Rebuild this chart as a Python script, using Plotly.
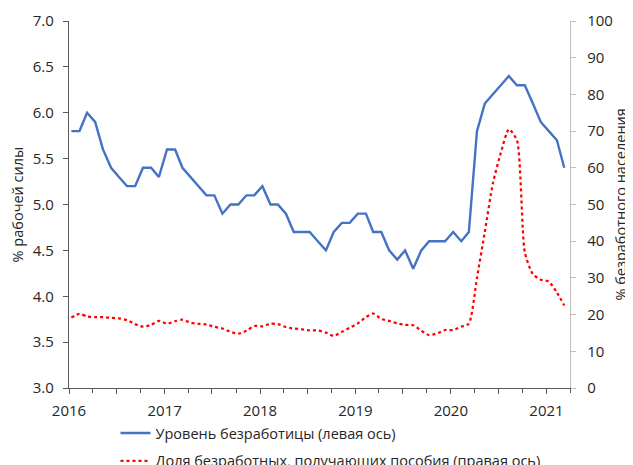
import pandas as pd
import plotly.graph_objects as go

# monthly data, Jan 2016 - Mar 2021
months = pd.date_range("2016-01-01", "2021-03-01", freq="MS") + pd.Timedelta(days=9)

unemployment = [
    5.8, 5.8, 6.0, 5.9, 5.6, 5.4, 5.3, 5.2, 5.2, 5.4, 5.4, 5.3,
    5.6, 5.6, 5.4, 5.3, 5.2, 5.1, 5.1, 4.9, 5.0, 5.0, 5.1, 5.1,
    5.2, 5.0, 5.0, 4.9, 4.7, 4.7, 4.7, 4.6, 4.5, 4.7, 4.8, 4.8,
    4.9, 4.9, 4.7, 4.7, 4.5, 4.4, 4.5, 4.3, 4.5, 4.6, 4.6, 4.6,
    4.7, 4.6, 4.7, 5.8, 6.1, 6.2, 6.3, 6.4, 6.3, 6.3, 6.1, 5.9,
    5.8, 5.7, 5.4,
]

benefit_share = [
    19.2, 20.2, 19.5, 19.3, 19.3, 19.1, 19.0, 18.5, 17.4, 16.7, 17.2, 18.3,
    17.5, 18.2, 18.6, 17.8, 17.5, 17.3, 16.7, 16.2, 15.3, 14.8, 15.6, 16.9,
    16.8, 17.5, 17.4, 16.6, 16.2, 16.0, 15.7, 15.7, 15.1, 14.2, 15.3, 16.4,
    17.6, 19.3, 20.3, 18.8, 18.3, 17.6, 17.2, 17.1, 15.6, 14.4, 14.9, 15.8,
    15.8, 16.7, 17.5, 30.0, 42.5, 55.8, 64.0, 70.5, 67.5, 37.0, 31.0, 29.5,
    29.0, 26.0, 22.5,
]

major_ticks = pd.date_range("2016-01-01", "2021-01-01", freq="6MS")
tick_labels = [str(d.year) if d.month == 1 else "" for d in major_ticks]

FONT = "Open Sans, sans-serif"
DARK = "#595959"
LIGHT = "#bfbfbf"

fig = go.Figure()

fig.add_trace(
    go.Scatter(
        x=months,
        y=unemployment,
        mode="lines",
        name="Уровень безработицы (левая ось)",
        line=dict(color="#4472C4", width=2.4),
        legendgroup="a",
    )
)
fig.add_trace(
    go.Scatter(
        x=months,
        y=benefit_share,
        mode="lines",
        name="Доля безработных, получающих пособия (правая ось)",
        line=dict(color="#FF0000", width=2.25, dash="dot", shape="spline", smoothing=0.6),
        yaxis="y2",
        legendgroup="b",
    )
)
# empty trace so the overlay axis (inner half of crossing ticks) is drawn
fig.add_trace(go.Scatter(x=[], y=[], xaxis="x2", showlegend=False))

x_range = ["2016-01-01", "2021-04-01"]

# the page body has an 8px margin, so the figure is sized/offset for that
fig.update_layout(
    width=625,
    height=457,
    margin=dict(l=61, r=63, t=13, b=77, autoexpand=False),
    plot_bgcolor="white",
    paper_bgcolor="white",
    font=dict(family=FONT, size=15, color="#262626"),
    xaxis=dict(
        range=x_range,
        tickvals=major_ticks,
        ticktext=tick_labels,
        ticks="outside",
        ticklen=5,
        tickwidth=1.3,
        tickcolor=DARK,
        showline=True,
        linecolor=DARK,
        linewidth=1.3,
        showgrid=False,
        zeroline=False,
        automargin=False,
        ticklabelstandoff=4,
        minor=dict(ticks="outside", ticklen=4, dtick="M3", tick0="2016-01-01",
                   tickcolor=DARK, tickwidth=1.3, showgrid=False),
    ),
    xaxis2=dict(
        range=x_range,
        overlaying="x",
        anchor="y",
        side="bottom",
        tickvals=list(major_ticks) + [pd.Timestamp("2021-04-01")],
        ticks="inside",
        ticklen=5,
        tickwidth=1.3,
        tickcolor=DARK,
        showticklabels=False,
        showgrid=False,
        zeroline=False,
        automargin=False,
    ),
    yaxis=dict(
        range=[3, 7],
        dtick=0.5,
        tickformat=".1f",
        ticks="outside",
        ticklen=5,
        tickwidth=1.3,
        tickcolor=DARK,
        showline=True,
        linecolor=DARK,
        linewidth=1.3,
        showgrid=False,
        zeroline=False,
        automargin=False,
        ticklabelstandoff=6,
    ),
    yaxis2=dict(
        range=[0, 100],
        dtick=10,
        overlaying="y",
        side="right",
        anchor="x",
        ticks="outside",
        ticklen=5,
        tickwidth=1.3,
        tickcolor=LIGHT,
        showline=True,
        linecolor=LIGHT,
        linewidth=1.3,
        showgrid=False,
        zeroline=False,
        automargin=False,
        ticklabelstandoff=8,
    ),
    legend=dict(
        orientation="v",
        xref="container",
        yref="container",
        x=0.172,
        xanchor="left",
        y=0.105,
        yanchor="top",
        font=dict(size=14.5),
        tracegroupgap=6,
        itemwidth=30,
        bgcolor="rgba(0,0,0,0)",
    ),
    showlegend=True,
)

# axis titles placed as annotations (rotated)
fig.add_annotation(
    text="% рабочей силы", xref="paper", yref="paper", x=-0.102, y=0.5,
    xanchor="center", yanchor="middle", textangle=-90, showarrow=False,
    font=dict(size=14.5),
)
fig.add_annotation(
    text="% безработного населения", xref="paper", yref="paper", x=1.1,
    y=0.5, xanchor="center", yanchor="middle", textangle=-90, showarrow=False,
    font=dict(size=14.5),
)

fig.write_html("out.html")
